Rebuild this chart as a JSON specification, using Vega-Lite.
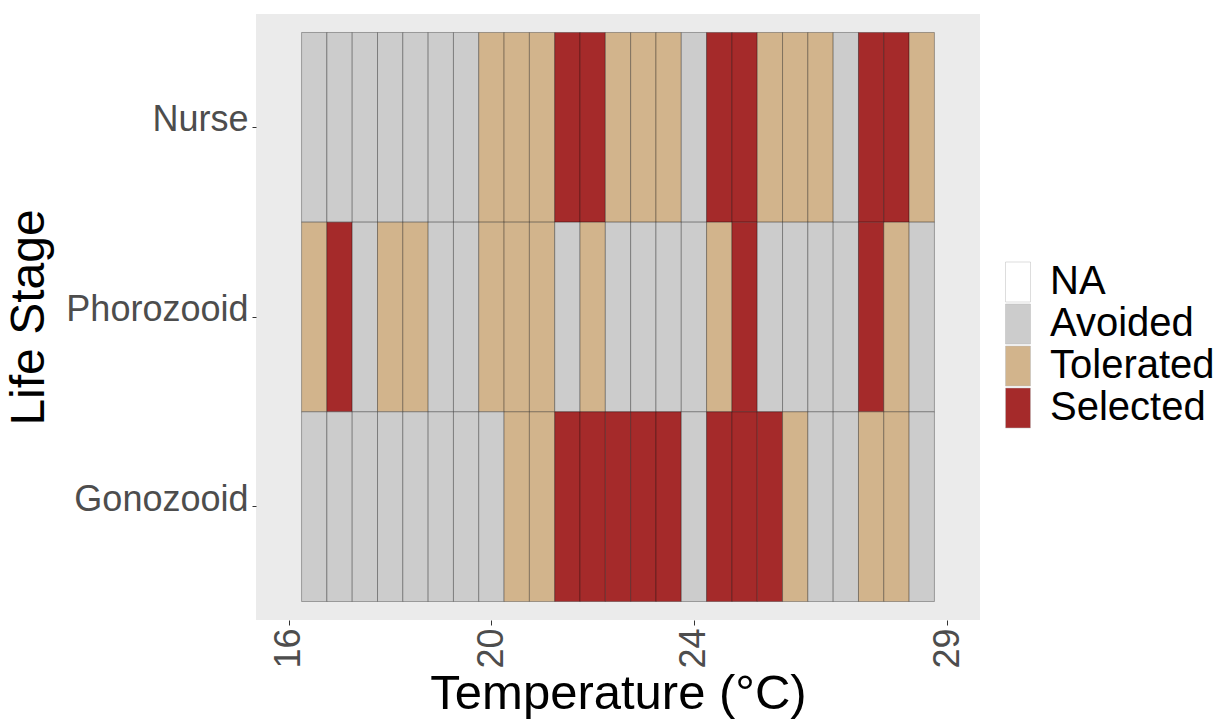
{
  "$schema": "https://vega.github.io/schema/vega-lite/v6.json",
  "autosize": {"type": "none"},
  "padding": {"left": 256, "top": 14, "right": 251, "bottom": 101},
  "width": 724,
  "height": 606,
  "background": "white",
  "config": {
    "font": "Liberation Sans",
    "view": {"fill": "#EBEBEB", "stroke": null}
  },
  "data": {
    "values": [
      {"stage": "Nurse", "temp": 16.5, "response": "Avoided"},
      {"stage": "Nurse", "temp": 17, "response": "Avoided"},
      {"stage": "Nurse", "temp": 17.5, "response": "Avoided"},
      {"stage": "Nurse", "temp": 18, "response": "Avoided"},
      {"stage": "Nurse", "temp": 18.5, "response": "Avoided"},
      {"stage": "Nurse", "temp": 19, "response": "Avoided"},
      {"stage": "Nurse", "temp": 19.5, "response": "Avoided"},
      {"stage": "Nurse", "temp": 20, "response": "Tolerated"},
      {"stage": "Nurse", "temp": 20.5, "response": "Tolerated"},
      {"stage": "Nurse", "temp": 21, "response": "Tolerated"},
      {"stage": "Nurse", "temp": 21.5, "response": "Selected"},
      {"stage": "Nurse", "temp": 22, "response": "Selected"},
      {"stage": "Nurse", "temp": 22.5, "response": "Tolerated"},
      {"stage": "Nurse", "temp": 23, "response": "Tolerated"},
      {"stage": "Nurse", "temp": 23.5, "response": "Tolerated"},
      {"stage": "Nurse", "temp": 24, "response": "Avoided"},
      {"stage": "Nurse", "temp": 24.5, "response": "Selected"},
      {"stage": "Nurse", "temp": 25, "response": "Selected"},
      {"stage": "Nurse", "temp": 25.5, "response": "Tolerated"},
      {"stage": "Nurse", "temp": 26, "response": "Tolerated"},
      {"stage": "Nurse", "temp": 26.5, "response": "Tolerated"},
      {"stage": "Nurse", "temp": 27, "response": "Avoided"},
      {"stage": "Nurse", "temp": 27.5, "response": "Selected"},
      {"stage": "Nurse", "temp": 28, "response": "Selected"},
      {"stage": "Nurse", "temp": 28.5, "response": "Tolerated"},
      {"stage": "Phorozooid", "temp": 16.5, "response": "Tolerated"},
      {"stage": "Phorozooid", "temp": 17, "response": "Selected"},
      {"stage": "Phorozooid", "temp": 17.5, "response": "Avoided"},
      {"stage": "Phorozooid", "temp": 18, "response": "Tolerated"},
      {"stage": "Phorozooid", "temp": 18.5, "response": "Tolerated"},
      {"stage": "Phorozooid", "temp": 19, "response": "Avoided"},
      {"stage": "Phorozooid", "temp": 19.5, "response": "Avoided"},
      {"stage": "Phorozooid", "temp": 20, "response": "Tolerated"},
      {"stage": "Phorozooid", "temp": 20.5, "response": "Tolerated"},
      {"stage": "Phorozooid", "temp": 21, "response": "Tolerated"},
      {"stage": "Phorozooid", "temp": 21.5, "response": "Avoided"},
      {"stage": "Phorozooid", "temp": 22, "response": "Tolerated"},
      {"stage": "Phorozooid", "temp": 22.5, "response": "Avoided"},
      {"stage": "Phorozooid", "temp": 23, "response": "Avoided"},
      {"stage": "Phorozooid", "temp": 23.5, "response": "Avoided"},
      {"stage": "Phorozooid", "temp": 24, "response": "Avoided"},
      {"stage": "Phorozooid", "temp": 24.5, "response": "Tolerated"},
      {"stage": "Phorozooid", "temp": 25, "response": "Selected"},
      {"stage": "Phorozooid", "temp": 25.5, "response": "Avoided"},
      {"stage": "Phorozooid", "temp": 26, "response": "Avoided"},
      {"stage": "Phorozooid", "temp": 26.5, "response": "Avoided"},
      {"stage": "Phorozooid", "temp": 27, "response": "Avoided"},
      {"stage": "Phorozooid", "temp": 27.5, "response": "Selected"},
      {"stage": "Phorozooid", "temp": 28, "response": "Tolerated"},
      {"stage": "Phorozooid", "temp": 28.5, "response": "Avoided"},
      {"stage": "Gonozooid", "temp": 16.5, "response": "Avoided"},
      {"stage": "Gonozooid", "temp": 17, "response": "Avoided"},
      {"stage": "Gonozooid", "temp": 17.5, "response": "Avoided"},
      {"stage": "Gonozooid", "temp": 18, "response": "Avoided"},
      {"stage": "Gonozooid", "temp": 18.5, "response": "Avoided"},
      {"stage": "Gonozooid", "temp": 19, "response": "Avoided"},
      {"stage": "Gonozooid", "temp": 19.5, "response": "Avoided"},
      {"stage": "Gonozooid", "temp": 20, "response": "Avoided"},
      {"stage": "Gonozooid", "temp": 20.5, "response": "Tolerated"},
      {"stage": "Gonozooid", "temp": 21, "response": "Tolerated"},
      {"stage": "Gonozooid", "temp": 21.5, "response": "Selected"},
      {"stage": "Gonozooid", "temp": 22, "response": "Selected"},
      {"stage": "Gonozooid", "temp": 22.5, "response": "Selected"},
      {"stage": "Gonozooid", "temp": 23, "response": "Selected"},
      {"stage": "Gonozooid", "temp": 23.5, "response": "Selected"},
      {"stage": "Gonozooid", "temp": 24, "response": "Avoided"},
      {"stage": "Gonozooid", "temp": 24.5, "response": "Selected"},
      {"stage": "Gonozooid", "temp": 25, "response": "Selected"},
      {"stage": "Gonozooid", "temp": 25.5, "response": "Selected"},
      {"stage": "Gonozooid", "temp": 26, "response": "Tolerated"},
      {"stage": "Gonozooid", "temp": 26.5, "response": "Avoided"},
      {"stage": "Gonozooid", "temp": 27, "response": "Avoided"},
      {"stage": "Gonozooid", "temp": 27.5, "response": "Tolerated"},
      {"stage": "Gonozooid", "temp": 28, "response": "Tolerated"},
      {"stage": "Gonozooid", "temp": 28.5, "response": "Avoided"}
    ]
  },
  "mark": {
    "type": "rect",
    "width": 25.3,
    "stroke": "#000000",
    "strokeOpacity": 0.3,
    "strokeWidth": 1
  },
  "encoding": {
    "x": {
      "field": "temp",
      "type": "quantitative",
      "scale": {"domain": [15.35, 29.65], "nice": false, "zero": false},
      "axis": {
        "title": "Temperature (°C)",
        "values": [16, 20, 24, 29],
        "grid": false,
        "domain": false,
        "tickColor": "#333333",
        "tickSize": 5,
        "labelAngle": -90,
        "labelAlign": "right",
        "labelBaseline": "middle",
        "labelFontSize": 36,
        "labelColor": "#4D4D4D",
        "labelPadding": 3,
        "titleFontSize": 49,
        "titleFontWeight": "normal",
        "titleColor": "#000000",
        "titlePadding": 1
      }
    },
    "y": {
      "field": "stage",
      "type": "nominal",
      "sort": ["Nurse", "Phorozooid", "Gonozooid"],
      "scale": {"paddingInner": 0, "paddingOuter": 0.0975},
      "axis": {
        "title": "Life Stage",
        "grid": false,
        "domain": false,
        "tickColor": "#333333",
        "tickSize": 4,
        "labelFontSize": 36,
        "labelColor": "#4D4D4D",
        "labelPadding": 4,
        "labelLimit": 400,
        "labelBaseline": "alphabetic",
        "labelOffset": 4,
        "titleFontSize": 48,
        "titleFontWeight": "normal",
        "titleColor": "#000000",
        "titlePadding": 12
      }
    },
    "color": {
      "field": "response",
      "type": "nominal",
      "scale": {
        "domain": ["NA", "Avoided", "Tolerated", "Selected"],
        "range": ["#FFFFFF", "#CCCCCC", "#D2B48C", "#A52A2A"]
      },
      "legend": {
        "title": null,
        "orient": "none",
        "legendX": 742,
        "legendY": 248,
        "padding": 0,
        "symbolType": "M-1,-1.6H1V1.6H-1Z",
        "symbolSize": 625,
        "symbolStrokeColor": "#BBBBBB",
        "symbolStrokeWidth": 0.5,
        "symbolOpacity": 1,
        "labelFontSize": 40,
        "labelColor": "#000000",
        "labelOffset": 12,
        "rowPadding": 0,
        "labelLimit": 300
      }
    }
  }
}
